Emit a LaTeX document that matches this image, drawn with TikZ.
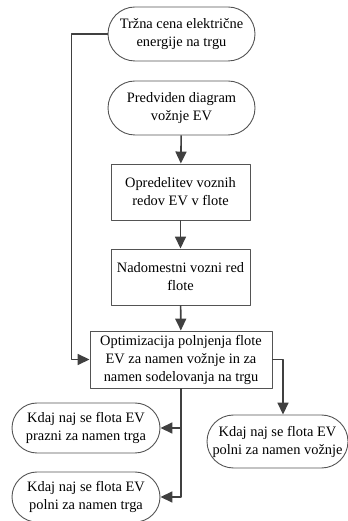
\documentclass[tikz,border=0pt]{standalone}
\usepackage{fontspec}
\setmainfont{Liberation Serif}
\usetikzlibrary{arrows.meta,shapes.misc}

\definecolor{linecol}{rgb}{0.25,0.25,0.25}
\definecolor{bordcol}{rgb}{0.33,0.33,0.33}

\begin{document}
\begin{tikzpicture}[>={Triangle[width=11bp,length=12bp]},line join=bevel,
  term/.style={rounded rectangle,draw=bordcol,line width=0.9bp,inner sep=0bp,align=center,
    font=\fontsize{14.4bp}{18bp}\selectfont},
  proc/.style={rectangle,draw=bordcol,line width=0.9bp,inner sep=0bp,align=center,
    font=\fontsize{14.4bp}{18bp}\selectfont},
  flow/.style={draw=linecol,line width=1.6bp}]

\useasboundingbox (0bp,0bp) rectangle (348bp,521bp);

% Node: mkt
\node [term,minimum width=147bp,minimum height=54bp] (mkt) at (181.5bp,487bp) {Tržna cena električne\\energije na trgu};

% Node: drv
\node [term,minimum width=147bp,minimum height=54bp] (drv) at (181.5bp,413bp) {Predviden diagram\\vožnje EV};

% Node: opr
\node [proc,minimum width=139bp,minimum height=56bp] (opr) at (180.5bp,329bp) {Opredelitev voznih\\redov EV v flote};

% Node: nad
\node [proc,minimum width=139bp,minimum height=56bp] (nad) at (180.5bp,244bp) {Nadomestni vozni red\\flote};

% Node: opt
\node [proc,minimum width=182bp,minimum height=57bp] (opt) at (181bp,161.5bp) {Optimizacija polnjenja flote\\EV za namen vožnje in za\\namen sodelovanja na trgu};

% Node: vzn
\node [term,minimum width=141bp,minimum height=53bp] (vzn) at (277.5bp,79.5bp) {Kdaj naj se flota EV\\polni za namen vožnje};

% Node: prz
\node [term,minimum width=148bp,minimum height=50bp] (prz) at (86bp,93bp) {Kdaj naj se flota EV\\prazni za namen trga};

% Node: pol
\node [term,minimum width=148bp,minimum height=50bp] (pol) at (86bp,24bp) {Kdaj naj se flota EV\\polni za namen trga};

% Edge: mkt -> opt
\draw [flow,->] (mkt.west) -- ++(-36bp,0bp) |- (opt.west);

% Edge: drv -> opr
\draw [flow,->] (drv) -- (opr);

% Edge: opr -> nad
\draw [flow,->] (opr) -- (nad);

% Edge: nad -> opt
\draw [flow,->] (nad) -- (opt);

% Edge: opt -> vzn
\draw [flow,->] (opt.east) -| ([xshift=5.5bp]vzn.north);

% Edge: opt -> prz
\draw [flow,->] (opt.south) |- (prz.east);

% Edge: opt -> pol
\draw [flow,->] (opt.south) |- (pol.east);

\end{tikzpicture}
\end{document}
